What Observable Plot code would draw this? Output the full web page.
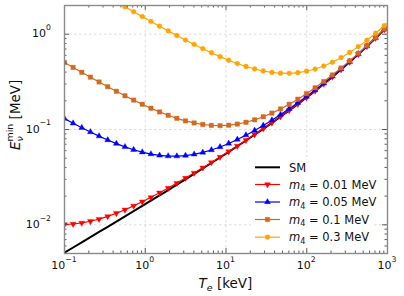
<!DOCTYPE html>
<html><head><meta charset="utf-8">
<script src="https://cdn.jsdelivr.net/npm/d3@7"></script>
<script src="https://cdn.jsdelivr.net/npm/@observablehq/plot@0.6"></script>
<style>html,body{margin:0;padding:0;background:#fff;} svg{display:block;}</style>
</head><body><div id="chart"></div>
<script>
// Recoil energy T_e [keV] (markers at all but the last point)
const Te = [0.1, 0.1279, 0.1637, 0.2095, 0.268, 0.3429, 0.4387, 0.5612, 0.718, 0.9189, 1.1755, 1.504, 1.924, 2.462, 3.15, 4.03, 5.156, 6.596, 8.44, 10.80, 13.81, 17.68, 22.62, 28.94, 37.02, 47.37, 60.60, 77.54, 99.22, 126.9, 162.4, 207.8, 265.9, 340.2, 435.3, 556.9, 712.6, 911.7, 1000];
// E_nu^min [MeV]
const SM = [0.005105, 0.005781, 0.006550, 0.007422, 0.008410, 0.009533, 0.010809, 0.012259, 0.013908, 0.015789, 0.017928, 0.020370, 0.023155, 0.026342, 0.029988, 0.034167, 0.038965, 0.044483, 0.050849, 0.058207, 0.066706, 0.076630, 0.088169, 0.10167, 0.11751, 0.13622, 0.15837, 0.18477, 0.21638, 0.25437, 0.30049, 0.35666, 0.42555, 0.51048, 0.61589, 0.74730, 0.91220, 1.11973, 1.21099];
const m001 = [0.01010, 0.01020, 0.01047, 0.01089, 0.01148, 0.01225, 0.01322, 0.01440, 0.01580, 0.01747, 0.01942, 0.02170, 0.02433, 0.02739, 0.03092, 0.03500, 0.03970, 0.04514, 0.05144, 0.05873, 0.06718, 0.07705, 0.08855, 0.10201, 0.11782, 0.13650, 0.15862, 0.18500, 0.21659, 0.25456, 0.30067, 0.35683, 0.42570, 0.51062, 0.61602, 0.74743, 0.91232, 1.11985, 1.21110];
const m005 = [0.12998, 0.11635, 0.10442, 0.09409, 0.08517, 0.07753, 0.07108, 0.06568, 0.06129, 0.05782, 0.05523, 0.05350, 0.05260, 0.05251, 0.05328, 0.05491, 0.05745, 0.06098, 0.06559, 0.07139, 0.07852, 0.08723, 0.09770, 0.11026, 0.12528, 0.14325, 0.16476, 0.19059, 0.22171, 0.25927, 0.30501, 0.36086, 0.42946, 0.51415, 0.61935, 0.75059, 0.91533, 1.12274, 1.21395];
const m01 = [0.50464, 0.44806, 0.39804, 0.35410, 0.31546, 0.28156, 0.25191, 0.22596, 0.20345, 0.18390, 0.16715, 0.15290, 0.14092, 0.13103, 0.12314, 0.11713, 0.11291, 0.11047, 0.10980, 0.11094, 0.11397, 0.11904, 0.12631, 0.13604, 0.14857, 0.16436, 0.18394, 0.20808, 0.23772, 0.27398, 0.31859, 0.37346, 0.44121, 0.52516, 0.62973, 0.76043, 0.92472, 1.13175, 1.22284];
const m03 = [4.5007, 3.9862, 3.5299, 3.1275, 2.7718, 2.4577, 2.1807, 1.9356, 1.7197, 1.5287, 1.3609, 1.2131, 1.0830, 0.96853, 0.86835, 0.78077, 0.70446, 0.63838, 0.58143, 0.53283, 0.49208, 0.45832, 0.43143, 0.41104, 0.39705, 0.38946, 0.38851, 0.39460, 0.40843, 0.43089, 0.46343, 0.50781, 0.56649, 0.64262, 0.74049, 0.86547, 1.02493, 1.22789, 1.31763];

const seriesNames = ["SM", "0.01", "0.05", "0.1", "0.3"];
const seriesValues = [SM, m001, m005, m01, m03];
const seriesColors = ["black", "red", "blue", "#d2691e", "orange"];

const xMajor = [0.1, 1, 10, 100, 1000];
const yMajor = [0.01, 0.1, 1];
const xMinor = [0.2,0.3,0.4,0.5,0.6,0.7,0.8,0.9, 2,3,4,5,6,7,8,9, 20,30,40,50,60,70,80,90, 200,300,400,500,600,700,800,900];
const yMinor = [0.006,0.007,0.008,0.009, 0.02,0.03,0.04,0.05,0.06,0.07,0.08,0.09, 0.2,0.3,0.4,0.5,0.6,0.7,0.8,0.9];

const triDown = {draw(ctx, size) {
  const s3 = Math.sqrt(3), y = Math.sqrt(size / (s3 * 3));
  ctx.moveTo(0, 2 * y); ctx.lineTo(-s3 * y, -y); ctx.lineTo(s3 * y, -y); ctx.closePath();
}};
const seriesSymbols = [null, triDown, "triangle", "square", "circle"];
const seriesR = [0, 2.2, 2.2, 2.5, 2.4];

const W = 404, H = 296, mL = 64, mR = 17, mT = 5, mB = 43;
const iW = W - mL - mR, iH = H - mT - mB;
const FONT = "DejaVu Sans, Liberation Sans, sans-serif";

const marks = [
  Plot.ruleX(xMajor.slice(1, -1), {x: d => d, stroke: "#d4d4d4", strokeWidth: 0.8, strokeDasharray: "2.5,2.5"}),
  Plot.ruleY(yMajor, {y: d => d, stroke: "#d4d4d4", strokeWidth: 0.8, strokeDasharray: "2.5,2.5"})
];
seriesValues.forEach((vals, s) => {
  const rows = Te.map((t, i) => ({t, e: vals[i], i}));
  marks.push(Plot.line(rows, {x: "t", y: "e", stroke: seriesColors[s], strokeWidth: s === 0 ? 2 : 1.2, clip: true}));
  if (seriesSymbols[s]) {
    marks.push(Plot.dot(rows.filter(d => d.i < Te.length - 1), {x: "t", y: "e", symbol: seriesSymbols[s], r: seriesR[s], fill: seriesColors[s], stroke: seriesColors[s], strokeWidth: 0.4, clip: true}));
  }
});
const tk = {stroke: "#333", strokeWidth: 0.8};
marks.push(
  Plot.tickX(xMajor, {x: d => d, insetTop: iH - 5, ...tk}),
  Plot.tickX(xMajor, {x: d => d, insetBottom: iH - 5, ...tk}),
  Plot.tickX(xMinor, {x: d => d, insetTop: iH - 2.5, ...tk}),
  Plot.tickX(xMinor, {x: d => d, insetBottom: iH - 2.5, ...tk}),
  Plot.tickY(yMajor, {y: d => d, insetRight: iW - 5, ...tk}),
  Plot.tickY(yMajor, {y: d => d, insetLeft: iW - 5, ...tk}),
  Plot.tickY(yMinor, {y: d => d, insetRight: iW - 2.5, ...tk}),
  Plot.tickY(yMinor, {y: d => d, insetLeft: iW - 2.5, ...tk}),
  Plot.frame({stroke: "#8a8a8a", strokeWidth: 1.4})
);

const plot = Plot.plot({
  width: W, height: H, marginLeft: mL, marginRight: mR, marginTop: mT, marginBottom: mB,
  style: {fontFamily: FONT, background: "white"},
  x: {type: "log", domain: [0.1, 1000], axis: null},
  y: {type: "log", domain: [0.005, 2], axis: null},
  marks
});
document.getElementById("chart").appendChild(plot);

const sx = plot.scale("x"), sy = plot.scale("y");
const svg = d3.select(plot);
const exp = v => String(Math.round(Math.log10(v))).replace("-", "\u2212");
const TF = 11;

// x tick labels
xMajor.forEach(v => {
  const t = svg.append("text").attr("x", sx.apply(v)).attr("y", 269.3)
    .attr("text-anchor", "middle").attr("font-family", FONT).attr("font-size", TF).attr("fill", "#111");
  t.append("tspan").text("10");
  t.append("tspan").attr("font-size", TF * 0.7).attr("dy", -7.2).text(exp(v));
});
// y tick labels
yMajor.forEach(v => {
  const t = svg.append("text").attr("x", 51).attr("y", sy.apply(v) + 3.6)
    .attr("text-anchor", "end").attr("font-family", FONT).attr("font-size", TF).attr("fill", "#111");
  t.append("tspan").text("10");
  t.append("tspan").attr("font-size", TF * 0.7).attr("dy", -7.2).text(exp(v));
});

// axis labels
const AF = 13.5;
{
  const t = svg.append("text").attr("x", (mL + W - mR) / 2).attr("y", 287.5)
    .attr("text-anchor", "middle").attr("font-family", FONT).attr("font-size", AF).attr("fill", "#111");
  t.append("tspan").attr("font-style", "italic").text("T");
  t.append("tspan").attr("font-style", "italic").attr("font-size", AF * 0.7).attr("dy", 3).text("e");
  t.append("tspan").attr("dy", -3).text(" [keV]");
}
{
  const t = svg.append("text").attr("transform", "translate(19.5,150) rotate(-90)")
    .attr("text-anchor", "start").attr("font-family", FONT).attr("font-size", AF).attr("fill", "#111");
  t.append("tspan").attr("font-style", "italic").text("E");
  const nu = t.append("tspan").attr("font-style", "italic").attr("font-size", AF * 0.7).attr("dy", 3).text("\u03bd");
  const w = nu.node().getComputedTextLength();
  t.append("tspan").attr("font-size", AF * 0.7).attr("dx", -w).attr("dy", -9.5).text("min");
  t.append("tspan").attr("dy", 6.5).text(" [MeV]");
}

// legend
const LF = 11.5;
const lg = svg.append("g");
lg.append("rect").attr("x", 251).attr("y", 157).attr("width", 123).attr("height", 90).attr("fill", "white");
const ly = [167.3, 184.5, 202, 219.5, 237.2];
seriesNames.forEach((name, s) => {
  const y = ly[s];
  lg.append("line").attr("x1", 255).attr("x2", 280).attr("y1", y).attr("y2", y)
    .attr("stroke", seriesColors[s]).attr("stroke-width", s === 0 ? 2 : 1.2);
  if (seriesSymbols[s]) {
    const typ = {triangle: d3.symbolTriangle, square: d3.symbolSquare, circle: d3.symbolCircle}[seriesSymbols[s]] || seriesSymbols[s];
    lg.append("path").attr("transform", `translate(267.5,${y})`)
      .attr("d", d3.symbol().type(typ).size(seriesR[s] * seriesR[s] * Math.PI)())
      .attr("fill", seriesColors[s]).attr("stroke", seriesColors[s]).attr("stroke-width", 0.4);
  }
  const t = lg.append("text").attr("x", 289).attr("y", y + 4.2).attr("text-anchor", "start")
    .attr("font-family", FONT).attr("font-size", LF).attr("fill", "#111");
  if (s === 0) t.text("SM");
  else {
    t.append("tspan").attr("font-style", "italic").text("m");
    t.append("tspan").attr("font-size", LF * 0.7).attr("dy", 2.5).text("4");
    t.append("tspan").attr("dy", -2.5).text(" = " + name + " MeV");
  }
});
</script></body></html>
